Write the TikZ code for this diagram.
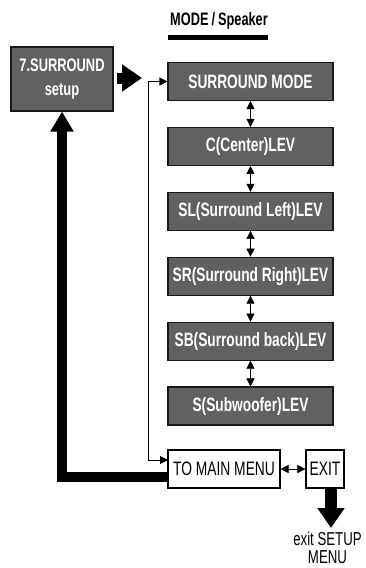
\documentclass[tikz,border=0pt]{standalone}
\usepackage{fontspec}
\setmainfont[FakeStretch=0.71]{Liberation Sans}
\usetikzlibrary{arrows.meta}

\begin{document}
\begin{tikzpicture}[x=0.75pt, y=-0.75pt, >={Triangle[width=6pt,length=6pt]},
    menubox/.style={draw=black!90, line width=0.8pt, fill=black!62, text=white,
        font=\bfseries\fontsize{14.5}{17.5}\selectfont, inner sep=0pt,
        minimum width=123.75pt, minimum height=28.5pt},
    plainbox/.style={draw=black, line width=0.8pt, fill=white, inner sep=0pt,
        font=\fontsize{14.6}{15}\selectfont, minimum height=28.5pt},
    fatarrow/.style={line width=#1, -{Triangle[width=19.5pt,length=15pt]}}]
    \useasboundingbox (0,0) rectangle (365,568);

    % Titel
    \node[font=\bfseries\fontsize{13.5}{14}\selectfont] (title) at (219,21) {MODE\,/\,Speaker};
    \fill (168,35) rectangle (268,40);

    % Setup-Kasten links
    \node[menubox, font=\bfseries\fontsize{13.6}{17.5}\selectfont, minimum width=76.5pt,
        minimum height=48pt, align=center] (setup) at (62,79) {7.SURROUND\\setup};

    % Menuepunkte
    \node[menubox] (smode) at (250.5,81.5) {SURROUND MODE};
    \node[menubox] (center) at (250.5,146.4) {C(Center)LEV};
    \node[menubox] (sleft) at (250.5,211.3) {SL(Surround Left)LEV};
    \node[menubox] (sright) at (250.5,276.2) {SR(Surround Right)LEV};
    \node[menubox] (sback) at (250.5,341.1) {SB(Surround back)LEV};
    \node[menubox] (sub) at (250.5,406) {S(Subwoofer)LEV};

    \node[plainbox, minimum width=84pt] (main) at (224,469) {TO MAIN MENU};
    \node[plainbox, minimum width=28.5pt] (exit) at (325,469) {EXIT};
    \node[align=center, inner sep=0pt, font=\fontsize{14}{13.5}\selectfont]
        (quit) at (327.5,548) {exit SETUP\\MENU};

    % kleine Doppelpfeile
    \draw[<->] (smode) -- (center);
    \draw[<->] (center) -- (sleft);
    \draw[<->] (sleft) -- (sright);
    \draw[<->] (sright) -- (sback);
    \draw[<->] (sback) -- (sub);
    \draw[<->] (main) -- (exit);

    % duenne Ruecklinie
    \coordinate (mainin) at (168,460);
    \draw[->, line width=0.6pt] (148,460) |- (smode.west);
    \draw[->, line width=0.6pt] (148,460) -- (mainin);

    % dicke Pfeile
    \coordinate (fatstart) at (117,78);
    \coordinate (fattip) at (142,78);
    \draw[fatarrow=8.25pt] (fatstart) -- (fattip);
    \coordinate (backin) at (168,477);
    \draw[fatarrow=7.5pt, -{Triangle[width=16.5pt,length=15pt]}] (backin) -- (62,477) -- (setup.south);
    \coordinate (exitout) at (331,488);
    \draw[fatarrow=9pt] (exitout) -- (331,528);
\end{tikzpicture}
\end{document}
